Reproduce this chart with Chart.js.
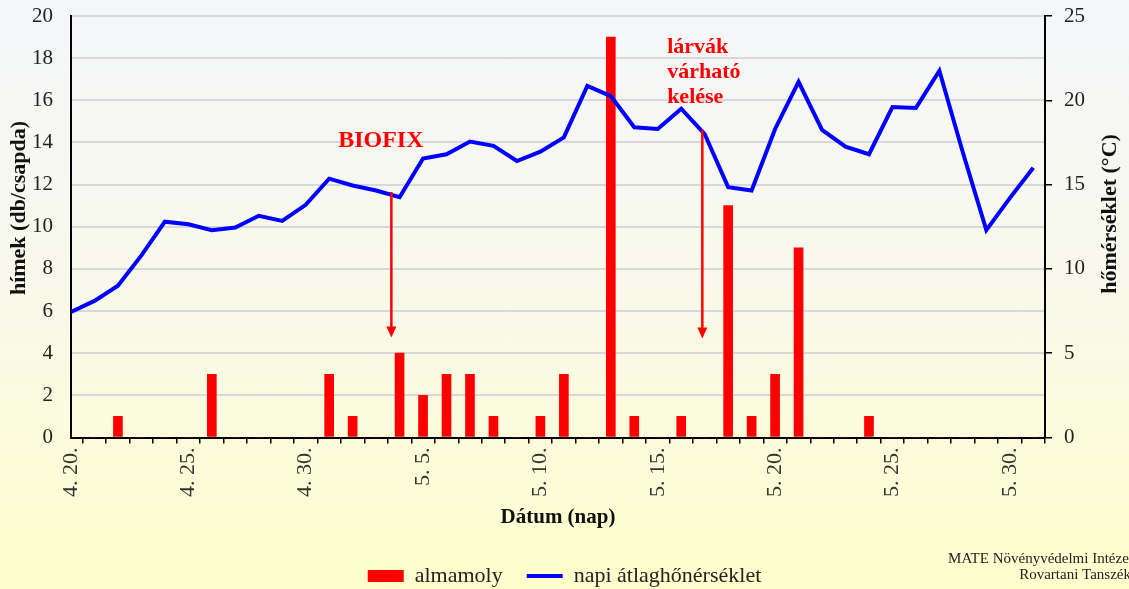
<!DOCTYPE html>
<html>
<head>
<meta charset="utf-8">
<script src="https://cdn.jsdelivr.net/npm/chart.js@4.4.0/dist/chart.umd.min.js"></script>
<style>
    html, body { margin: 0; padding: 0; }
    body { width: 1129px; height: 589px; overflow: hidden;
           background: linear-gradient(to bottom, #f4f6fa 0%, #f9f9e8 55%, #ffffcc 100%); }
    #wrap { width: 1129px; height: 589px; position: relative; }
</style>
</head>
<body>
<div id="wrap"><canvas id="chart"></canvas></div>
<script>
// napok: 4.20 - 5.31
const days = [
    '4. 20.', '4. 21.', '4. 22.', '4. 23.', '4. 24.', '4. 25.', '4. 26.', '4. 27.', '4. 28.', '4. 29.', '4. 30.',
    '5. 1.', '5. 2.', '5. 3.', '5. 4.', '5. 5.', '5. 6.', '5. 7.', '5. 8.', '5. 9.', '5. 10.',
    '5. 11.', '5. 12.', '5. 13.', '5. 14.', '5. 15.', '5. 16.', '5. 17.', '5. 18.', '5. 19.', '5. 20.',
    '5. 21.', '5. 22.', '5. 23.', '5. 24.', '5. 25.', '5. 26.', '5. 27.', '5. 28.', '5. 29.', '5. 30.', '5. 31.'
];

// almamoly fogas (db/csapda)
const moths = [
    0, 0, 1, 0, 0, 0, 3, 0, 0, 0, 0,
    3, 1, 0, 4, 2, 3, 3, 1, 0, 1,
    3, 0, 19, 1, 0, 1, 0, 11, 1, 3,
    9, 0, 0, 1, 0, 0, 0, 0, 0, 0, 0
];

// napi atlaghomerseklet (°C)
const temps = [
    7.45, 8.1, 9.0, 10.8, 12.8, 12.65, 12.3, 12.45, 13.15, 12.85, 13.8,
    15.35, 14.95, 14.65, 14.25, 16.55, 16.8, 17.55, 17.3, 16.4, 16.95,
    17.8, 20.85, 20.25, 18.4, 18.3, 19.5, 18.0, 14.85, 14.65, 18.3,
    21.1, 18.25, 17.25, 16.8, 19.6, 19.55, 21.75, 16.9, 12.3, 14.2, 16.0
];

const leftTicks = [0, 2, 4, 6, 8, 10, 12, 14, 16, 18, 20];
const rightTicks = [0, 5, 10, 15, 20, 25];

const serif = '"Liberation Serif", "Times New Roman", serif';

// annotation plugin: BIOFIX + larvak, axis titles, credit
const annotations = {
    id: 'annotations',
    afterDatasetsDraw(chart) {
        const ctx = chart.ctx;
        const x = chart.scales.x, y = chart.scales.y;

        function arrow(xv, y1, y2) {
            const px = x.getPixelForValue(xv);
            const top = y.getPixelForValue(y1);
            const bot = y.getPixelForValue(y2);
            ctx.save();
            ctx.strokeStyle = '#ff0000';
            ctx.fillStyle = '#ff0000';
            ctx.lineWidth = 2.5;
            ctx.beginPath();
            ctx.moveTo(px, top);
            ctx.lineTo(px, bot - 9);
            ctx.stroke();
            ctx.beginPath();
            ctx.moveTo(px - 5, bot - 11);
            ctx.lineTo(px + 5, bot - 11);
            ctx.lineTo(px, bot);
            ctx.closePath();
            ctx.fill();
            ctx.restore();
        }

        arrow(13.65, 11.65, 4.75);
        arrow(26.9, 14.6, 4.7);

        ctx.save();
        ctx.fillStyle = '#ff0000';
        ctx.font = 'bold 24px ' + serif;
        ctx.textAlign = 'center';
        ctx.textBaseline = 'middle';
        ctx.fillText('BIOFIX', x.getPixelForValue(13.2), y.getPixelForValue(14.06));
        ctx.textAlign = 'left';
        ctx.font = 'bold 22px ' + serif;
        const lx = x.getPixelForValue(25.4);
        ctx.fillText('lárvák', lx, y.getPixelForValue(18.52));
        ctx.fillText('várható', lx, y.getPixelForValue(17.33));
        ctx.fillText('kelése', lx, y.getPixelForValue(16.15));
        ctx.restore();

        // axis titles
        ctx.save();
        ctx.fillStyle = '#111';
        ctx.font = 'bold 22px ' + serif;
        ctx.textAlign = 'center';
        ctx.textBaseline = 'middle';
        ctx.translate(19, 208);
        ctx.rotate(-Math.PI / 2);
        ctx.fillText('hímek (db/csapda)', 0, 0);
        ctx.restore();

        ctx.save();
        ctx.fillStyle = '#111';
        ctx.font = 'bold 22px ' + serif;
        ctx.textAlign = 'center';
        ctx.textBaseline = 'middle';
        ctx.translate(1110, 214);
        ctx.rotate(-Math.PI / 2);
        ctx.fillText('hőmérséklet (°C)', 0, 0);
        ctx.restore();

        // credit
        ctx.save();
        ctx.fillStyle = '#222';
        ctx.font = '15px ' + serif;
        ctx.textAlign = 'right';
        ctx.textBaseline = 'middle';
        ctx.fillText('MATE Növényvédelmi Intézet', 1133, 559);
        ctx.fillText('Rovartani Tanszék', 1131, 575);
        ctx.restore();
    }
};

const ctx = document.getElementById('chart').getContext('2d');
new Chart(ctx, {
    type: 'bar',
    data: {
        datasets: [
            {
                type: 'bar',
                label: 'almamoly',
                data: moths.map((v, i) => ({ x: i, y: v })),
                backgroundColor: '#ff0000',
                borderWidth: 0,
                barThickness: 9,
                yAxisID: 'y',
                order: 2
            },
            {
                type: 'line',
                label: 'napi átlaghőnérséklet',
                data: temps.map((v, i) => ({ x: i, y: v })),
                borderColor: '#0000ff',
                backgroundColor: '#0000ff',
                borderWidth: 4,
                pointRadius: 0,
                tension: 0,
                yAxisID: 'y1',
                order: 1
            }
        ]
    },
    options: {
        responsive: true,
        maintainAspectRatio: false,
        animation: false,
        layout: { padding: { top: 16, bottom: -8, left: 0, right: 0 } },
        plugins: {
            tooltip: { enabled: false },
            legend: {
                position: 'bottom',
                labels: {
                    usePointStyle: true,
                    pointStyleWidth: 36,
                    boxHeight: 12,
                    padding: 24,
                    color: '#222',
                    font: { family: serif, size: 22 },
                    sort: (a, b) => a.datasetIndex - b.datasetIndex,
                    generateLabels: function (chart) {
                        const items = Chart.defaults.plugins.legend.labels.generateLabels(chart);
                        items.forEach(it => {
                            it.pointStyle = it.datasetIndex === 0 ? 'rect' : 'line';
                        });
                        return items;
                    }
                }
            }
        },
        scales: {
            x: {
                type: 'linear',
                min: 0,
                max: 41.5,
                offset: false,
                afterFit: function (scale) { scale.height = 103.5; },
                afterBuildTicks: function (scale) {
                    scale.ticks = days.map((d, i) => ({ value: i }));
                },
                ticks: {
                    autoSkip: false,
                    minRotation: 90,
                    maxRotation: 90,
                    padding: 4,
                    color: '#333',
                    font: { family: serif, size: 22 },
                    callback: function (value) {
                        return value % 5 === 0 ? days[value] : '';
                    }
                },
                grid: {
                    drawOnChartArea: false,
                    drawTicks: true,
                    tickLength: 6,
                    color: '#000',
                    lineWidth: 1.5
                },
                border: { color: '#000', width: 2 },
                title: {
                    display: true,
                    text: 'Dátum (nap)',
                    color: '#111',
                    font: { family: serif, size: 21, weight: 'bold' },
                    padding: { top: 0, bottom: 11 }
                }
            },
            y: {
                position: 'left',
                min: 0,
                max: 20,
                afterFit: function (scale) {
                    scale.width = 71;
                    scale.paddingTop = 0;
                    scale.paddingBottom = 0;
                },
                afterBuildTicks: function (scale) {
                    scale.ticks = leftTicks.map(v => ({ value: v }));
                },
                ticks: {
                    padding: 18,
                    color: '#222',
                    font: { family: serif, size: 21 }
                },
                grid: {
                    color: '#d8d8dc',
                    lineWidth: 2,
                    drawTicks: false
                },
                border: { color: '#000', width: 2 }
            },
            y1: {
                position: 'right',
                min: 0,
                max: 25,
                afterFit: function (scale) {
                    scale.width = 84;
                    scale.paddingTop = 0;
                    scale.paddingBottom = 0;
                },
                afterBuildTicks: function (scale) {
                    scale.ticks = rightTicks.map(v => ({ value: v }));
                },
                ticks: {
                    padding: 12,
                    color: '#222',
                    font: { family: serif, size: 21 }
                },
                grid: {
                    drawOnChartArea: false,
                    drawTicks: true,
                    tickLength: 7,
                    color: '#000',
                    lineWidth: 1.5
                },
                border: { color: '#000', width: 2 }
            }
        }
    },
    plugins: [annotations]
});
</script>
</body>
</html>
